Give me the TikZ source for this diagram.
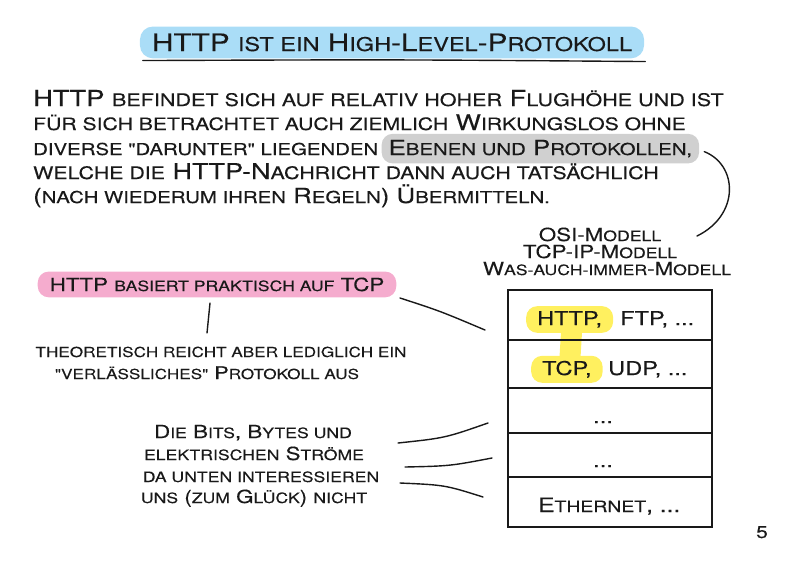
\documentclass[tikz,border=0pt]{standalone}
\usepackage{fontspec}
\setmainfont{TeX Gyre Heros}[FakeStretch=1.24,FakeBold=0.2,Ligatures=TeXOff]
\usetikzlibrary{calc,backgrounds}
\definecolor{hlblue}{RGB}{170,221,247}
\definecolor{hlgray}{RGB}{208,208,208}
\definecolor{hlpink}{RGB}{245,172,206}
\definecolor{hlyellow}{RGB}{255,240,95}
\definecolor{inkc}{RGB}{25,25,25}
\newcommand{\smc}[1]{\scalebox{0.79}{\MakeUppercase{#1}}}
\newcommand{\dq}{\symbol{34}}
\begin{document}
\begin{tikzpicture}[x=1pt,y=-1pt,
  ink/.style={draw=inkc, line width=1.4pt, line cap=round, line join=round},
  txt/.style={inner sep=0pt, text=inkc, font=\fontsize{#1}{#1}\selectfont},
  txt/.default=18,
  hl/.style={fill=#1, rounded corners=11pt, inner xsep=10pt, inner ysep=6pt},
  layerbox/.style={draw=inkc, line width=1.3pt, minimum width=204pt, inner sep=0pt},
]
\useasboundingbox (0,0) rectangle (800,566);

% title
\node[txt=24, hl=hlblue, anchor=base, rounded corners=13pt, inner xsep=12pt, inner ysep=7pt] (title) at (392,51) {HTTP \smc{ist ein} H\smc{igh}-L\smc{evel}-P\smc{rotokoll}};
\draw[ink] ($(title.south west)+(3,2)$) .. controls ($(title.south)+(0,1)$) .. ($(title.south east)+(1,3)$);

% body paragraph
\node[txt=22, anchor=base west] (l1) at (33,106) {HTTP \smc{befindet sich auf relativ hoher} F\smc{lughöhe und ist}};
\node[txt=21.6, anchor=base west] (l2) at (33,130) {\smc{für sich betrachtet auch ziemlich} W\smc{irkungslos ohne}};
\node[txt=20.8, anchor=base west] (l3) at (33,155) {\smc{diverse \dq darunter\dq\ liegenden}};
\node[txt=20.8, hl=hlgray, anchor=base west, inner xsep=7pt] (ebenen) at ($(l3.base east)+(3,0)$) {E\smc{benen und} P\smc{rotokollen,}};
\node[txt=21.8, anchor=base west] (l4) at (33,179) {\smc{welche die} HTTP-N\smc{achricht dann auch tatsächlich}};
\node[txt=20.8, anchor=base west] (l5) at (33,203) {(\smc{nach wiederum ihren} R\smc{egeln}) Ü\smc{bermitteln.}};

% models
\coordinate (osiend) at (697,236);
\draw[ink] ($(ebenen.east)+(5,3)$) .. controls (738,165) and (740,215) .. (osiend);
\node[txt=18, anchor=base] (osi) at (600,241) {OSI-M\smc{odell}};
\node[txt=18, anchor=base] (tcpip) at (600,258) {TCP-IP-M\smc{odell}};
\node[txt=18, anchor=base] (was) at (607,275) {W\smc{as-auch-immer}-M\smc{odell}};

% pink note
\node[txt=18, hl=hlpink, anchor=base, inner xsep=12pt] (pink) at (217,291) {HTTP \smc{basiert praktisch auf} TCP};
\node[txt=17.5, anchor=base] (theo1) at (221,357) {\smc{theoretisch reicht aber lediglich ein}};
\node[txt=17.5, anchor=base] (theo2) at (207,379) {\smc{\dq verlässliches\dq} P\smc{rotokoll aus}};
\coordinate (pa) at (210,303);
\coordinate (pb) at (207,333);
\draw[ink] (pa) -- (pb);
\coordinate (sa) at (400,298);
\coordinate (sb) at (485,330);
\draw[ink] (sa) .. controls (440,311) .. (sb);

% layer stack
\node[layerbox, minimum height=50pt] (r1) at (610,315) {};
\node[layerbox, minimum height=48pt] (r2) at (610,364) {};
\node[layerbox, minimum height=45pt] (r3) at (610,410.5) {};
\node[layerbox, minimum height=44pt] (r4) at (610,455) {};
\node[layerbox, minimum height=50pt] (r5) at (610,502) {};

\node[txt=19, hl=hlyellow, anchor=base west, inner xsep=11pt, inner ysep=5pt] (http) at (526,325) {HTTP,};
\node[txt=19, anchor=base west] (ftp) at (620,325) {FTP, ...};
\node[txt=19, hl=hlyellow, anchor=base west, inner xsep=11pt, inner ysep=5pt] (tcp) at (531,375) {TCP,};
\node[txt=19, anchor=base west] (udp) at (608,375) {UDP, ...};
\begin{scope}[on background layer]
\draw[hlyellow, line width=21pt] ($(http.south)+(2,-3)$) -- ($(tcp.north)+(3,3)$);
\end{scope}
\node[txt=19, anchor=base] (d1) at (603,423) {...};
\node[txt=19, anchor=base] (d2) at (603,467) {...};
\node[txt=19.8, anchor=base west] (eth) at (538,512) {E\smc{thernet}, ...};

% bits note
\node[txt=18, anchor=base] (b1) at (253,438) {D\smc{ie} B\smc{its}, B\smc{ytes und}};
\node[txt=18, anchor=base] (b2) at (254,460) {\smc{elektrischen} S\smc{tröme}};
\node[txt=18, anchor=base] (b3) at (261,482) {\smc{da unten interessieren}};
\node[txt=18, anchor=base] (b4) at (254,503) {\smc{uns} (\smc{zum} G\smc{lück}) \smc{nicht}};
\coordinate (ba1) at (398,443); \coordinate (bb1) at (488,423);
\coordinate (ba2) at (405,467); \coordinate (bb2) at (492,458);
\coordinate (ba3) at (400,483); \coordinate (bb3) at (483,497);
\draw[ink] (ba1) .. controls (445,438) .. (bb1);
\draw[ink] (ba2) .. controls (450,466) .. (bb2);
\draw[ink] (ba3) .. controls (445,485) .. (bb3);

% page number
\node[inner sep=0pt, text=inkc, font=\fontsize{17}{17}\selectfont, anchor=base] (page) at (762,538) {5};
\end{tikzpicture}
\end{document}
